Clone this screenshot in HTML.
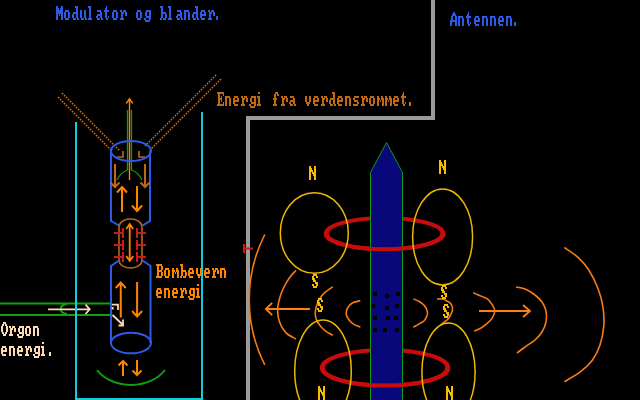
<!DOCTYPE html>
<html><head><meta charset="utf-8">
<style>
html,body{margin:0;padding:0;background:#000;width:640px;height:400px;overflow:hidden}
svg{display:block}
text{font-family:"Liberation Mono",monospace;font-size:13.333px;white-space:pre}
</style></head>
<body>
<svg width="640" height="400" viewBox="0 0 640 400">
<rect width="640" height="400" fill="#000"/>

<!-- titles -->
<path fill="#2e5aea" d="M56 6h2v2h-2zM61 6h2v2h-2zM56 8h3v2h-3zM60 8h3v2h-3zM56 10h7v2h-7zM56 12h7v2h-7zM56 14h2v2h-2zM59 14h1v2h-1zM61 14h2v2h-2zM56 16h2v2h-2zM61 16h2v2h-2zM56 18h2v2h-2zM61 18h2v2h-2zM65 10h4v2h-4zM64 12h2v2h-2zM68 12h2v2h-2zM64 14h2v2h-2zM68 14h2v2h-2zM64 16h2v2h-2zM68 16h2v2h-2zM65 18h4v2h-4zM75 6h3v2h-3zM76 8h2v2h-2zM76 10h2v2h-2zM73 12h5v2h-5zM72 14h2v2h-2zM76 14h2v2h-2zM72 16h2v2h-2zM76 16h2v2h-2zM73 18h3v2h-3zM77 18h2v2h-2zM80 10h2v2h-2zM84 10h2v2h-2zM80 12h2v2h-2zM84 12h2v2h-2zM80 14h2v2h-2zM84 14h2v2h-2zM80 16h2v2h-2zM84 16h2v2h-2zM81 18h3v2h-3zM85 18h2v2h-2zM88 6h3v2h-3zM89 8h2v2h-2zM89 10h2v2h-2zM89 12h2v2h-2zM89 14h2v2h-2zM89 16h2v2h-2zM88 18h4v2h-4zM97 10h4v2h-4zM100 12h2v2h-2zM97 14h5v2h-5zM96 16h2v2h-2zM100 16h2v2h-2zM97 18h3v2h-3zM101 18h2v2h-2zM106 6h1v2h-1zM105 8h2v2h-2zM104 10h5v2h-5zM105 12h2v2h-2zM105 14h2v2h-2zM105 16h2v2h-2zM108 16h1v2h-1zM106 18h2v2h-2zM113 10h4v2h-4zM112 12h2v2h-2zM116 12h2v2h-2zM112 14h2v2h-2zM116 14h2v2h-2zM112 16h2v2h-2zM116 16h2v2h-2zM113 18h4v2h-4zM120 10h2v2h-2zM123 10h3v2h-3zM121 12h3v2h-3zM125 12h2v2h-2zM121 14h2v2h-2zM125 14h2v2h-2zM121 16h2v2h-2zM120 18h4v2h-4zM137 10h4v2h-4zM136 12h2v2h-2zM140 12h2v2h-2zM136 14h2v2h-2zM140 14h2v2h-2zM136 16h2v2h-2zM140 16h2v2h-2zM137 18h4v2h-4zM146 10h5v2h-5zM145 12h2v2h-2zM149 12h2v2h-2zM145 14h2v2h-2zM149 14h2v2h-2zM146 16h5v2h-5zM144 18h2v2h-2zM149 18h2v2h-2zM145 20h5v2h-5zM160 6h3v2h-3zM161 8h2v2h-2zM161 10h2v2h-2zM161 12h5v2h-5zM161 14h2v2h-2zM165 14h2v2h-2zM161 16h2v2h-2zM165 16h2v2h-2zM160 18h2v2h-2zM163 18h3v2h-3zM168 6h3v2h-3zM169 8h2v2h-2zM169 10h2v2h-2zM169 12h2v2h-2zM169 14h2v2h-2zM169 16h2v2h-2zM168 18h4v2h-4zM177 10h4v2h-4zM180 12h2v2h-2zM177 14h5v2h-5zM176 16h2v2h-2zM180 16h2v2h-2zM177 18h3v2h-3zM181 18h2v2h-2zM184 10h5v2h-5zM184 12h2v2h-2zM188 12h2v2h-2zM184 14h2v2h-2zM188 14h2v2h-2zM184 16h2v2h-2zM188 16h2v2h-2zM184 18h2v2h-2zM188 18h2v2h-2zM195 6h3v2h-3zM196 8h2v2h-2zM196 10h2v2h-2zM193 12h5v2h-5zM192 14h2v2h-2zM196 14h2v2h-2zM192 16h2v2h-2zM196 16h2v2h-2zM193 18h3v2h-3zM197 18h2v2h-2zM201 10h4v2h-4zM200 12h2v2h-2zM204 12h2v2h-2zM200 14h6v2h-6zM200 16h2v2h-2zM201 18h4v2h-4zM208 10h2v2h-2zM211 10h3v2h-3zM209 12h3v2h-3zM213 12h2v2h-2zM209 14h2v2h-2zM213 14h2v2h-2zM209 16h2v2h-2zM208 18h4v2h-4zM216 16h2v2h-2zM216 18h2v2h-2z"/>
<path fill="#2e5aea" d="M453 12h2v2h-2zM452 14h4v2h-4zM451 16h2v2h-2zM455 16h2v2h-2zM451 18h2v2h-2zM455 18h2v2h-2zM450 20h7v2h-7zM450 22h2v2h-2zM455 22h2v2h-2zM450 24h2v2h-2zM455 24h2v2h-2zM458 16h5v2h-5zM458 18h2v2h-2zM462 18h2v2h-2zM458 20h2v2h-2zM462 20h2v2h-2zM458 22h2v2h-2zM462 22h2v2h-2zM458 24h2v2h-2zM462 24h2v2h-2zM468 12h1v2h-1zM467 14h2v2h-2zM466 16h5v2h-5zM467 18h2v2h-2zM467 20h2v2h-2zM467 22h2v2h-2zM470 22h1v2h-1zM468 24h2v2h-2zM475 16h4v2h-4zM474 18h2v2h-2zM478 18h2v2h-2zM474 20h6v2h-6zM474 22h2v2h-2zM475 24h4v2h-4zM482 16h5v2h-5zM482 18h2v2h-2zM486 18h2v2h-2zM482 20h2v2h-2zM486 20h2v2h-2zM482 22h2v2h-2zM486 22h2v2h-2zM482 24h2v2h-2zM486 24h2v2h-2zM490 16h5v2h-5zM490 18h2v2h-2zM494 18h2v2h-2zM490 20h2v2h-2zM494 20h2v2h-2zM490 22h2v2h-2zM494 22h2v2h-2zM490 24h2v2h-2zM494 24h2v2h-2zM499 16h4v2h-4zM498 18h2v2h-2zM502 18h2v2h-2zM498 20h6v2h-6zM498 22h2v2h-2zM499 24h4v2h-4zM506 16h5v2h-5zM506 18h2v2h-2zM510 18h2v2h-2zM506 20h2v2h-2zM510 20h2v2h-2zM506 22h2v2h-2zM510 22h2v2h-2zM506 24h2v2h-2zM510 24h2v2h-2zM514 22h2v2h-2zM514 24h2v2h-2z"/>
<path fill="#c06812" d="M217 92h7v2h-7zM218 94h2v2h-2zM223 94h1v2h-1zM218 96h2v2h-2zM221 96h1v2h-1zM218 98h4v2h-4zM218 100h2v2h-2zM221 100h1v2h-1zM218 102h2v2h-2zM223 102h1v2h-1zM217 104h7v2h-7zM225 96h5v2h-5zM225 98h2v2h-2zM229 98h2v2h-2zM225 100h2v2h-2zM229 100h2v2h-2zM225 102h2v2h-2zM229 102h2v2h-2zM225 104h2v2h-2zM229 104h2v2h-2zM234 96h4v2h-4zM233 98h2v2h-2zM237 98h2v2h-2zM233 100h6v2h-6zM233 102h2v2h-2zM234 104h4v2h-4zM241 96h2v2h-2zM244 96h3v2h-3zM242 98h3v2h-3zM246 98h2v2h-2zM242 100h2v2h-2zM246 100h2v2h-2zM242 102h2v2h-2zM241 104h4v2h-4zM251 96h5v2h-5zM250 98h2v2h-2zM254 98h2v2h-2zM250 100h2v2h-2zM254 100h2v2h-2zM251 102h5v2h-5zM249 104h2v2h-2zM254 104h2v2h-2zM250 106h5v2h-5zM258 92h2v2h-2zM257 96h3v2h-3zM258 98h2v2h-2zM258 100h2v2h-2zM258 102h2v2h-2zM257 104h4v2h-4zM275 92h3v2h-3zM274 94h2v2h-2zM277 94h2v2h-2zM274 96h2v2h-2zM273 98h4v2h-4zM274 100h2v2h-2zM274 102h2v2h-2zM273 104h4v2h-4zM281 96h2v2h-2zM284 96h3v2h-3zM282 98h3v2h-3zM286 98h2v2h-2zM282 100h2v2h-2zM286 100h2v2h-2zM282 102h2v2h-2zM281 104h4v2h-4zM290 96h4v2h-4zM293 98h2v2h-2zM290 100h5v2h-5zM289 102h2v2h-2zM293 102h2v2h-2zM290 104h3v2h-3zM294 104h2v2h-2zM305 96h2v2h-2zM309 96h2v2h-2zM305 98h2v2h-2zM309 98h2v2h-2zM305 100h2v2h-2zM309 100h2v2h-2zM306 102h4v2h-4zM307 104h2v2h-2zM314 96h4v2h-4zM313 98h2v2h-2zM317 98h2v2h-2zM313 100h6v2h-6zM313 102h2v2h-2zM314 104h4v2h-4zM321 96h2v2h-2zM324 96h3v2h-3zM322 98h3v2h-3zM326 98h2v2h-2zM322 100h2v2h-2zM326 100h2v2h-2zM322 102h2v2h-2zM321 104h4v2h-4zM332 92h3v2h-3zM333 94h2v2h-2zM333 96h2v2h-2zM330 98h5v2h-5zM329 100h2v2h-2zM333 100h2v2h-2zM329 102h2v2h-2zM333 102h2v2h-2zM330 104h3v2h-3zM334 104h2v2h-2zM338 96h4v2h-4zM337 98h2v2h-2zM341 98h2v2h-2zM337 100h6v2h-6zM337 102h2v2h-2zM338 104h4v2h-4zM345 96h5v2h-5zM345 98h2v2h-2zM349 98h2v2h-2zM345 100h2v2h-2zM349 100h2v2h-2zM345 102h2v2h-2zM349 102h2v2h-2zM345 104h2v2h-2zM349 104h2v2h-2zM354 96h5v2h-5zM353 98h2v2h-2zM354 100h4v2h-4zM357 102h2v2h-2zM353 104h5v2h-5zM361 96h2v2h-2zM364 96h3v2h-3zM362 98h3v2h-3zM366 98h2v2h-2zM362 100h2v2h-2zM366 100h2v2h-2zM362 102h2v2h-2zM361 104h4v2h-4zM370 96h4v2h-4zM369 98h2v2h-2zM373 98h2v2h-2zM369 100h2v2h-2zM373 100h2v2h-2zM369 102h2v2h-2zM373 102h2v2h-2zM370 104h4v2h-4zM377 96h2v2h-2zM381 96h2v2h-2zM377 98h3v2h-3zM381 98h3v2h-3zM377 100h2v2h-2zM380 100h1v2h-1zM382 100h2v2h-2zM377 102h2v2h-2zM382 102h2v2h-2zM377 104h2v2h-2zM382 104h2v2h-2zM385 96h2v2h-2zM389 96h2v2h-2zM385 98h3v2h-3zM389 98h3v2h-3zM385 100h2v2h-2zM388 100h1v2h-1zM390 100h2v2h-2zM385 102h2v2h-2zM390 102h2v2h-2zM385 104h2v2h-2zM390 104h2v2h-2zM394 96h4v2h-4zM393 98h2v2h-2zM397 98h2v2h-2zM393 100h6v2h-6zM393 102h2v2h-2zM394 104h4v2h-4zM403 92h1v2h-1zM402 94h2v2h-2zM401 96h5v2h-5zM402 98h2v2h-2zM402 100h2v2h-2zM402 102h2v2h-2zM405 102h1v2h-1zM403 104h2v2h-2zM409 102h2v2h-2zM409 104h2v2h-2z"/>

<!-- gray frame -->
<rect x="431" y="0" width="4" height="120" fill="#9a9a9a"/>
<rect x="246" y="116" width="189" height="4" fill="#9a9a9a"/>
<rect x="246" y="116" width="4" height="284" fill="#9a9a9a"/>


<!-- diagonal double lines -->
<g stroke="#c86c18" stroke-width="1.6" fill="none" stroke-dasharray="1.6 1.23">
<line x1="62" y1="93" x2="120" y2="151"/>
<line x1="58" y1="97" x2="112" y2="151"/>
<line x1="216" y1="75" x2="145" y2="146"/>
<line x1="221" y1="79" x2="150" y2="150"/>
</g>
<g stroke="#c06812" stroke-width="1.6" fill="none">
<path d="M123 151 V157 H117 M139 151 V157 H145"/>
</g>

<!-- green lines & orange vertical arrow -->
<g stroke="#12a012" stroke-width="1.3" fill="none">
<path d="M127.5 110 V170 Q121 172 117 180"/>
<path d="M131.5 110 V170 Q138 172 142 180"/>
</g>
<g stroke="#ff8200" stroke-width="1.4" fill="none">
<line x1="129.5" y1="98" x2="129.5" y2="180"/>
<path d="M126.2 103.5 L129.5 99 L132.8 103.5"/>
</g>

<!-- upper tube -->
<g stroke="#2e5aea" stroke-width="2" fill="none">
<ellipse cx="131" cy="151" rx="20" ry="10"/>
<path d="M111 151 V221 L119 225.5 M150 151 V221 L142.5 225.5"/>
</g>
<g stroke="#c06812" stroke-width="2" fill="none">
<path d="M115 164 V187 M110.5 182.5 L115 187 L119.5 182.5"/>
<path d="M145 164 V187 M140.5 182.5 L145 187 L149.5 182.5"/>
</g>
<g stroke="#ff8200" stroke-width="2" fill="none">
<path d="M122 212 V186.5 M117 192.5 L122 187 L127 192.5"/>
<path d="M137 186 V211.5 M132 205.5 L137 211 L142 205.5"/>
</g>

<!-- capsule and capacitors -->
<rect x="119" y="219" width="23" height="49" rx="11" ry="8" stroke="#b8641a" stroke-width="1.6" fill="none"/>
<g stroke="#ff8200" stroke-width="1.8" fill="none">
<path d="M129.7 224 V261 M126.2 229 L129.7 224 L133.2 229 M126.2 256 L129.7 261 L133.2 256"/>
</g>
<g fill="#d01818">
<rect x="122" y="228" width="2" height="10"/>
<rect x="122" y="240" width="2" height="10"/>
<rect x="122" y="252" width="2" height="10"/>
<rect x="114" y="232" width="9" height="2"/>
<rect x="114" y="244" width="9" height="2"/>
<rect x="114" y="256" width="9" height="2"/>
<rect x="136" y="228" width="2" height="10"/>
<rect x="136" y="240" width="2" height="10"/>
<rect x="136" y="252" width="2" height="10"/>
<rect x="137" y="232" width="9" height="2"/>
<rect x="137" y="244" width="9" height="2"/>
<rect x="137" y="256" width="9" height="2"/>
</g>

<!-- lower tube -->
<g stroke="#2e5aea" stroke-width="2" fill="none">
<ellipse cx="131" cy="343" rx="20" ry="10.3"/>
<path d="M119 260.5 L111 266 V343 M142.5 260.5 L150.5 266 V343"/>
</g>
<g stroke="#ff8200" stroke-width="2" fill="none">
<path d="M120.75 317.5 V282.5 M115.75 288 L120.75 282.5 L125.75 288"/>
<path d="M137.1 282 V317 M132.1 311 L137.1 316.5 L142.1 311"/>
<path d="M123 376 V360.5 M118.5 365.5 L123 361 L127.5 365.5"/>
<path d="M137 360 V375.5 M132.5 370.5 L137 375 L141.5 370.5"/>
</g>

<!-- green rails -->
<g stroke="#12a012" stroke-width="2" fill="none">
<line x1="0" y1="303.5" x2="110.5" y2="303.5"/>
<line x1="0" y1="315" x2="110.5" y2="315"/>
<path d="M67 304 Q60.5 305 61 309 Q60.5 313.5 67 314"/>
<path d="M97 370 A40 31.7 0 0 0 165 370"/>
</g>
<g stroke="#ffd8b4" stroke-width="1.8" fill="none">
<path d="M48 309.3 H89 M85.5 304.5 L89.7 309.3 L85.5 314"/>
<path d="M112 304.6 H118 V310 M112.7 307 V309.5 M112.5 315 L122 324 M123 319.5 V325.5 H118.5"/>
</g>

<path fill="#ffd8b4" d="M3 322h3v2h-3zM2 324h2v2h-2zM5 324h2v2h-2zM1 326h2v2h-2zM6 326h2v2h-2zM1 328h2v2h-2zM6 328h2v2h-2zM1 330h2v2h-2zM6 330h2v2h-2zM2 332h2v2h-2zM5 332h2v2h-2zM3 334h3v2h-3zM9 326h2v2h-2zM12 326h3v2h-3zM10 328h3v2h-3zM14 328h2v2h-2zM10 330h2v2h-2zM14 330h2v2h-2zM10 332h2v2h-2zM9 334h4v2h-4zM19 326h5v2h-5zM18 328h2v2h-2zM22 328h2v2h-2zM18 330h2v2h-2zM22 330h2v2h-2zM19 332h5v2h-5zM17 334h2v2h-2zM22 334h2v2h-2zM18 336h5v2h-5zM26 326h4v2h-4zM25 328h2v2h-2zM29 328h2v2h-2zM25 330h2v2h-2zM29 330h2v2h-2zM25 332h2v2h-2zM29 332h2v2h-2zM26 334h4v2h-4zM33 326h5v2h-5zM33 328h2v2h-2zM37 328h2v2h-2zM33 330h2v2h-2zM37 330h2v2h-2zM33 332h2v2h-2zM37 332h2v2h-2zM33 334h2v2h-2zM37 334h2v2h-2z"/>
<path fill="#ffd8b4" d="M2 346h4v2h-4zM1 348h2v2h-2zM5 348h2v2h-2zM1 350h6v2h-6zM1 352h2v2h-2zM2 354h4v2h-4zM9 346h5v2h-5zM9 348h2v2h-2zM13 348h2v2h-2zM9 350h2v2h-2zM13 350h2v2h-2zM9 352h2v2h-2zM13 352h2v2h-2zM9 354h2v2h-2zM13 354h2v2h-2zM18 346h4v2h-4zM17 348h2v2h-2zM21 348h2v2h-2zM17 350h6v2h-6zM17 352h2v2h-2zM18 354h4v2h-4zM25 346h2v2h-2zM28 346h3v2h-3zM26 348h3v2h-3zM30 348h2v2h-2zM26 350h2v2h-2zM30 350h2v2h-2zM26 352h2v2h-2zM25 354h4v2h-4zM35 346h5v2h-5zM34 348h2v2h-2zM38 348h2v2h-2zM34 350h2v2h-2zM38 350h2v2h-2zM35 352h5v2h-5zM33 354h2v2h-2zM38 354h2v2h-2zM34 356h5v2h-5zM42 342h2v2h-2zM41 346h3v2h-3zM42 348h2v2h-2zM42 350h2v2h-2zM42 352h2v2h-2zM41 354h4v2h-4zM49 352h2v2h-2zM49 354h2v2h-2z"/>
<path fill="#ff8200" d="M156 264h6v2h-6zM157 266h2v2h-2zM161 266h2v2h-2zM157 268h2v2h-2zM161 268h2v2h-2zM157 270h5v2h-5zM157 272h2v2h-2zM161 272h2v2h-2zM157 274h2v2h-2zM161 274h2v2h-2zM156 276h6v2h-6zM165 268h4v2h-4zM164 270h2v2h-2zM168 270h2v2h-2zM164 272h2v2h-2zM168 272h2v2h-2zM164 274h2v2h-2zM168 274h2v2h-2zM165 276h4v2h-4zM172 268h2v2h-2zM176 268h2v2h-2zM172 270h3v2h-3zM176 270h3v2h-3zM172 272h2v2h-2zM175 272h1v2h-1zM177 272h2v2h-2zM172 274h2v2h-2zM177 274h2v2h-2zM172 276h2v2h-2zM177 276h2v2h-2zM180 264h3v2h-3zM181 266h2v2h-2zM181 268h2v2h-2zM181 270h5v2h-5zM181 272h2v2h-2zM185 272h2v2h-2zM181 274h2v2h-2zM185 274h2v2h-2zM180 276h2v2h-2zM183 276h3v2h-3zM189 268h4v2h-4zM188 270h2v2h-2zM192 270h2v2h-2zM188 272h6v2h-6zM188 274h2v2h-2zM189 276h4v2h-4zM196 268h2v2h-2zM200 268h2v2h-2zM196 270h2v2h-2zM200 270h2v2h-2zM196 272h2v2h-2zM200 272h2v2h-2zM197 274h4v2h-4zM198 276h2v2h-2zM205 268h4v2h-4zM204 270h2v2h-2zM208 270h2v2h-2zM204 272h6v2h-6zM204 274h2v2h-2zM205 276h4v2h-4zM212 268h2v2h-2zM215 268h3v2h-3zM213 270h3v2h-3zM217 270h2v2h-2zM213 272h2v2h-2zM217 272h2v2h-2zM213 274h2v2h-2zM212 276h4v2h-4zM220 268h5v2h-5zM220 270h2v2h-2zM224 270h2v2h-2zM220 272h2v2h-2zM224 272h2v2h-2zM220 274h2v2h-2zM224 274h2v2h-2zM220 276h2v2h-2zM224 276h2v2h-2z"/>
<path fill="#ff8200" d="M157 288h4v2h-4zM156 290h2v2h-2zM160 290h2v2h-2zM156 292h6v2h-6zM156 294h2v2h-2zM157 296h4v2h-4zM164 288h5v2h-5zM164 290h2v2h-2zM168 290h2v2h-2zM164 292h2v2h-2zM168 292h2v2h-2zM164 294h2v2h-2zM168 294h2v2h-2zM164 296h2v2h-2zM168 296h2v2h-2zM173 288h4v2h-4zM172 290h2v2h-2zM176 290h2v2h-2zM172 292h6v2h-6zM172 294h2v2h-2zM173 296h4v2h-4zM180 288h2v2h-2zM183 288h3v2h-3zM181 290h3v2h-3zM185 290h2v2h-2zM181 292h2v2h-2zM185 292h2v2h-2zM181 294h2v2h-2zM180 296h4v2h-4zM190 288h5v2h-5zM189 290h2v2h-2zM193 290h2v2h-2zM189 292h2v2h-2zM193 292h2v2h-2zM190 294h5v2h-5zM188 296h2v2h-2zM193 296h2v2h-2zM189 298h5v2h-5zM197 284h2v2h-2zM196 288h3v2h-3zM197 290h2v2h-2zM197 292h2v2h-2zM197 294h2v2h-2zM196 296h4v2h-4z"/>

<!-- cyan container -->
<rect x="75" y="122" width="2" height="278" fill="#10d0e0"/>
<rect x="201" y="112" width="2" height="288" fill="#10d0e0"/>
<rect x="75" y="398" width="128" height="2" fill="#10d0e0"/>

<!-- orange field arcs -->
<g stroke="#f87c14" stroke-width="1.6" fill="none">
<path d="M264.8 234.5 A144 144 0 0 0 264.8 364.8"/>
<path d="M296.0 270.4C295.0 271.5 292.0 274.2 290.0 277.0C288.0 279.8 285.7 283.7 284.0 287.0C282.3 290.3 281.0 293.7 280.0 297.0C279.0 300.3 278.1 303.8 277.8 307.0C277.5 310.2 277.6 313.3 278.0 316.0C278.4 318.7 279.2 320.8 280.0 323.0C280.8 325.2 281.7 327.1 283.0 329.0C284.3 330.9 285.8 332.8 288.0 334.5C290.2 336.2 294.7 338.2 296.0 339.0"/>
<path d="M332.8 286.8C331.9 287.4 329.1 289.2 327.5 290.5C325.9 291.8 324.4 292.8 323.0 294.2C321.6 295.8 320.4 297.4 319.2 299.5C318.1 301.6 316.9 304.8 316.2 307.0C315.6 309.2 315.2 311.0 315.2 313.0C315.2 315.0 315.7 317.2 316.2 319.0C316.8 320.8 317.5 322.0 318.5 323.5C319.5 325.0 320.9 326.6 322.2 328.0C323.6 329.4 325.0 330.6 326.8 331.8C328.5 332.9 331.8 334.6 332.8 335.2"/>
<path d="M360.3 300.6C359.1 300.9 355.1 301.7 353.3 302.5C351.5 303.3 350.5 304.3 349.4 305.6C348.3 306.9 347.1 308.7 346.6 310.3C346.1 311.9 345.9 313.3 346.4 315.0C346.9 316.7 348.1 318.9 349.4 320.5C350.7 322.1 352.2 323.3 354.0 324.4C355.8 325.5 359.2 326.7 360.3 327.2"/>
<path d="M413.4 298.9C414.4 299.4 417.9 300.6 419.7 301.7C421.5 302.8 423.1 304.1 424.4 305.6C425.6 307.2 426.7 309.4 427.2 311.0C427.7 312.6 427.7 313.4 427.2 315.0C426.7 316.6 425.6 319.1 424.4 320.5C423.1 321.9 421.5 322.5 419.7 323.6C417.9 324.7 414.4 326.6 413.4 327.2"/>
<path d="M437.0 299.0C438.0 299.0 441.4 298.7 443.0 299.0C444.6 299.3 445.3 300.2 446.5 300.8C447.7 301.4 449.1 301.9 450.0 302.8C450.9 303.7 451.6 304.9 452.0 306.0C452.4 307.1 452.6 308.3 452.5 309.5C452.4 310.7 451.9 311.9 451.5 313.0C451.1 314.1 450.6 315.0 450.0 316.0C449.4 317.0 448.8 318.1 448.0 319.0C447.2 319.9 446.2 320.6 445.0 321.5C443.8 322.4 441.7 324.0 441.0 324.5"/>
<path d="M473.2 292.7C473.9 293.0 474.9 293.6 477.2 294.6C479.5 295.6 484.5 297.0 487.0 298.7C489.5 300.4 490.9 302.7 492.2 304.7C493.5 306.7 494.8 308.4 494.8 310.7C494.8 312.9 493.5 316.1 492.2 318.2C490.9 320.3 488.9 321.9 487.0 323.5C485.1 325.1 483.1 326.8 481.0 328.0C478.9 329.2 475.3 330.5 474.2 331.0"/>
<path d="M516.0 287.0C517.5 287.3 521.8 287.7 525.0 289.0C528.2 290.3 532.2 292.8 535.0 295.0C537.8 297.2 540.2 299.3 542.0 302.0C543.8 304.7 545.3 307.7 546.0 311.0C546.7 314.3 546.7 318.5 546.0 322.0C545.3 325.5 543.8 329.0 542.0 332.0C540.2 335.0 537.8 337.5 535.0 340.0C532.2 342.5 528.0 344.8 525.0 347.0C522.0 349.2 518.3 352.0 517.0 353.0"/>
<path d="M564.4 247.5C566.6 249.1 573.4 253.1 577.5 256.9C581.6 260.6 585.3 264.7 588.8 270.0C592.2 275.3 595.7 282.5 598.1 288.8C600.5 295.0 602.1 301.2 603.0 307.5C603.9 313.8 604.2 320.0 603.8 326.2C603.2 332.5 601.9 339.4 600.0 345.0C598.1 350.6 595.6 355.6 592.5 360.0C589.4 364.4 585.9 367.6 581.2 371.2C576.6 374.9 567.2 380.0 564.4 381.8"/>
</g>
<g stroke="#ff8010" stroke-width="1.8" fill="none">
<path d="M266 309 H310 M272.2 302.8 L265.8 309 L272.2 315.2"/>
<path d="M479 311 H530 M523 305 L530 311 L523 317"/>
</g>
<g fill="#d01818"><rect x="243" y="244" width="2" height="9"/><rect x="243" y="247.5" width="10" height="2"/></g>

<!-- red rings back -->
<g stroke="#c80c0c" stroke-width="4" fill="none" transform="scale(1.25,1)">
<ellipse cx="307.68" cy="233.6" rx="46.72" ry="15.6"/>
<ellipse cx="308.08" cy="367.75" rx="50.16" ry="17.85"/>
</g>

<!-- antenna pillar -->
<polygon points="370.5,172.5 386.5,142.5 402.5,172.5 402.5,401 370.5,401" fill="#08087a" stroke="#109a10" stroke-width="1"/>
<g fill="#000">
<rect x="373" y="292" width="4" height="4"/><rect x="385" y="294" width="4" height="4"/><rect x="396" y="292" width="4" height="4"/>
<rect x="371" y="304" width="4" height="4"/><rect x="385" y="306" width="4" height="4"/><rect x="395" y="304" width="4" height="4"/>
<rect x="373" y="316" width="4" height="4"/><rect x="386" y="316" width="4" height="4"/><rect x="394" y="316" width="4" height="4"/>
<rect x="373" y="328" width="4" height="4"/><rect x="383" y="328" width="4" height="4"/><rect x="395" y="328" width="4" height="4"/>
</g>

<!-- red rings front -->
<g stroke="#c80c0c" stroke-width="4" fill="none" transform="scale(1.25,1)">
<path d="M260.96 233.6 A46.72 15.6 0 0 0 354.4 233.6"/>
<path d="M257.92 367.75 A50.16 17.85 0 0 0 358.24 367.75"/>
</g>

<!-- yellow flux loops -->
<g stroke="#f0b800" stroke-width="1.5" fill="none">
<ellipse cx="314.3" cy="233" rx="34" ry="40.3"/>
<ellipse cx="442.6" cy="236.9" rx="30" ry="48"/>
<ellipse cx="323" cy="371" rx="28.3" ry="51"/>
<ellipse cx="448.5" cy="372" rx="26.6" ry="49"/>
</g>
<g fill="#f8bc00">
<path d="M309 166h2v2h-2zM314 166h2v2h-2zM309 168h3v2h-3zM314 168h2v2h-2zM309 170h4v2h-4zM314 170h2v2h-2zM309 172h2v2h-2zM312 172h4v2h-4zM309 174h2v2h-2zM313 174h3v2h-3zM309 176h2v2h-2zM314 176h2v2h-2zM309 178h2v2h-2zM314 178h2v2h-2z"/>
<path d="M439 160h2v2h-2zM444 160h2v2h-2zM439 162h3v2h-3zM444 162h2v2h-2zM439 164h4v2h-4zM444 164h2v2h-2zM439 166h2v2h-2zM442 166h4v2h-4zM439 168h2v2h-2zM443 168h3v2h-3zM439 170h2v2h-2zM444 170h2v2h-2zM439 172h2v2h-2zM444 172h2v2h-2z"/>
<path d="M318 386h2v2h-2zM323 386h2v2h-2zM318 388h3v2h-3zM323 388h2v2h-2zM318 390h4v2h-4zM323 390h2v2h-2zM318 392h2v2h-2zM321 392h4v2h-4zM318 394h2v2h-2zM322 394h3v2h-3zM318 396h2v2h-2zM323 396h2v2h-2zM318 398h2v2h-2zM323 398h2v2h-2z"/>
<path d="M446 386h2v2h-2zM451 386h2v2h-2zM446 388h3v2h-3zM451 388h2v2h-2zM446 390h4v2h-4zM451 390h2v2h-2zM446 392h2v2h-2zM449 392h4v2h-4zM446 394h2v2h-2zM450 394h3v2h-3zM446 396h2v2h-2zM451 396h2v2h-2zM446 398h2v2h-2zM451 398h2v2h-2z"/>
<path d="M313 274h4v2h-4zM312 276h2v2h-2zM316 276h2v2h-2zM312 278h3v2h-3zM313 280h3v2h-3zM315 282h3v2h-3zM312 284h2v2h-2zM316 284h2v2h-2zM313 286h4v2h-4z"/>
<path d="M318 298h4v2h-4zM317 300h2v2h-2zM321 300h2v2h-2zM317 302h3v2h-3zM318 304h3v2h-3zM320 306h3v2h-3zM317 308h2v2h-2zM321 308h2v2h-2zM318 310h4v2h-4z"/>
<path d="M442 285h4v2h-4zM441 287h2v2h-2zM445 287h2v2h-2zM441 289h3v2h-3zM442 291h3v2h-3zM444 293h3v2h-3zM441 295h2v2h-2zM445 295h2v2h-2zM442 297h4v2h-4z"/>
<path d="M444 304h4v2h-4zM443 306h2v2h-2zM447 306h2v2h-2zM443 308h3v2h-3zM444 310h3v2h-3zM446 312h3v2h-3zM443 314h2v2h-2zM447 314h2v2h-2zM444 316h4v2h-4z"/>
</g>
</svg>
</body></html>
